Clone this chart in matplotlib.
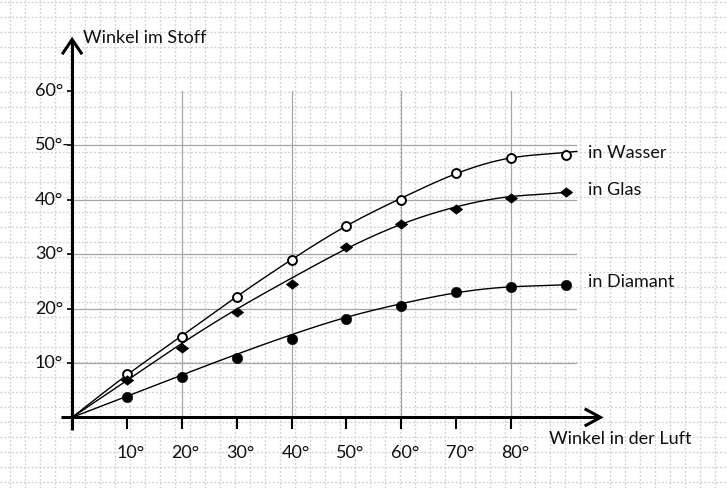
import numpy as np
import matplotlib
matplotlib.use("Agg")
import matplotlib.pyplot as plt
from matplotlib.path import Path

# ---------------- data ----------------
angles_air = [10, 20, 30, 40, 50, 60, 70, 80, 90]
water_pts = [7.9, 14.7, 22.1, 28.9, 35.1, 39.9, 44.9, 47.6, 48.2]
glass_pts = [6.8, 12.7, 19.3, 24.6, 31.3, 35.5, 38.4, 40.4, 41.5]
diamond_pts = [3.7, 7.4, 11.0, 14.5, 18.0, 20.4, 23.0, 23.9, 24.3]

# smooth curves
curve_x_water = [0, 10, 20, 30, 40, 50, 60, 70, 80, 90, 92]
curve_water = [0, 7.8, 15.0, 22.2, 29.0, 35.2, 40.3, 44.8, 47.7, 48.7, 48.9]
curve_x_glass = [0, 10, 20, 30, 40, 50, 60, 70, 80, 90, 90.8]
curve_glass = [0, 6.8, 13.6, 19.9, 25.6, 31.0, 35.5, 38.7, 40.6, 41.4, 41.5]
curve_x_diam = [0, 10, 20, 30, 40, 50, 60, 70, 80, 90, 90.8]
curve_diam = [0, 3.9, 7.8, 11.6, 15.2, 18.4, 20.9, 22.9, 24.0, 24.4, 24.45]

x_ticks = [10, 20, 30, 40, 50, 60, 70, 80]
x_tick_labels = ["10°", "20°", "30°", "40°", "50°", "60°", "70°", "80°"]
y_ticks = [10, 20, 30, 40, 50, 60]
y_tick_labels = ["10°", "20°", "30°", "40°", "50°-", "60°"]
series_labels = ["in Wasser", "in Glas", "in Diamant"]
x_title = "Winkel in der Luft"
y_title = "Winkel im Stoff"

# ---------------- helpers ----------------
W, H = 727, 488
X0, SX = 72.1, 5.486   # pixel of x=0, pixels per degree
Y0, SY = 417.4, 5.44


def px_x(p):
    return (p - X0) / SX


def px_y(p):
    return (Y0 - p) / SY


def natural_spline(xs, ys, n=400):
    xs = np.asarray(xs, float)
    ys = np.asarray(ys, float)
    k = len(xs)
    h = np.diff(xs)
    A = np.zeros((k, k))
    b = np.zeros(k)
    A[0, 0] = A[-1, -1] = 1
    for i in range(1, k - 1):
        A[i, i - 1] = h[i - 1]
        A[i, i] = 2 * (h[i - 1] + h[i])
        A[i, i + 1] = h[i]
        b[i] = 3 * ((ys[i + 1] - ys[i]) / h[i] - (ys[i] - ys[i - 1]) / h[i - 1])
    c = np.linalg.solve(A, b)
    xx = np.linspace(xs[0], xs[-1], n)
    yy = np.empty_like(xx)
    for j, x in enumerate(xx):
        i = min(np.searchsorted(xs, x, side="right") - 1, k - 2)
        bi = (ys[i + 1] - ys[i]) / h[i] - h[i] * (2 * c[i] + c[i + 1]) / 3
        di = (c[i + 1] - c[i]) / (3 * h[i])
        t = x - xs[i]
        yy[j] = ys[i] + bi * t + c[i] * t ** 2 + di * t ** 3
    return xx, yy


plt.rcParams["font.family"] = ["Lato", "DejaVu Sans"]
FS = 13

fig = plt.figure(figsize=(W / 100, H / 100), dpi=100)
ax = fig.add_axes([0, 0, 1, 1])
ax.set_xlim(px_x(0), px_x(W))
ax.set_ylim(px_y(H), px_y(0))
ax.axis("off")
fig.patch.set_facecolor("white")

# graph-paper dotted grid
dot_style = dict(color="#d2d2d2", lw=1.0, dashes=(1.4, 1.4), zorder=0)
for px in np.arange(10, W, 15):
    ax.plot([px_x(px), px_x(px)], [px_y(0), px_y(H)], **dot_style)
for py in np.arange(2, H, 15):
    ax.plot([px_x(0), px_x(W)], [px_y(py), px_y(py)], **dot_style)

# solid major grid lines
grid_style = dict(color="#a6a6a6", lw=0.9, zorder=1)
for gx in [20, 40, 60, 80]:
    ax.plot([gx, gx], [0, 60], **grid_style)
for gy in [10, 20, 30, 40, 50]:
    ax.plot([0, px_x(576)], [gy, gy], **grid_style)

# axes with arrows
axis_lw = 2.2
ax.plot([px_x(61), px_x(600)], [0, 0], color="black", lw=axis_lw, zorder=4,
        solid_capstyle="butt")
ax.plot([0, 0], [px_y(430), px_y(40)], color="black", lw=axis_lw, zorder=4,
        solid_capstyle="butt")
# arrow heads (chevrons)
ax.plot([px_x(586), px_x(600.5), px_x(586)], [px_y(409.5), px_y(417.4), px_y(425.3)],
        color="black", lw=axis_lw, zorder=4, solid_joinstyle="miter")
ax.plot([px_x(63), px_x(72.1), px_x(81.2)], [px_y(53), px_y(39.5), px_y(53)],
        color="black", lw=axis_lw, zorder=4, solid_joinstyle="miter")

# ticks
for t in x_ticks:
    ax.plot([t, t], [0, px_y(429)], color="black", lw=1.5, zorder=4,
            solid_capstyle="butt")
for t in y_ticks:
    ax.plot([px_x(66.5), 0], [t, t], color="black", lw=1.2, zorder=4,
            solid_capstyle="butt")

for t, lab in zip(x_ticks, x_tick_labels):
    ax.text(t + px_x(76) - px_x(72.1), px_y(453), lab, ha="center", va="center",
            fontsize=FS, color="#111111", zorder=5)
for t, lab in zip(y_ticks, y_tick_labels):
    ax.text(px_x(35), t, lab, ha="left", va="center", fontsize=FS,
            color="#111111", zorder=5)

ax.text(px_x(83), px_y(38), y_title, ha="left", va="center", fontsize=FS,
        color="#111111", zorder=5)
ax.text(px_x(549), px_y(439), x_title, ha="left", va="center", fontsize=FS,
        color="#111111", zorder=5)

# curves
for cx, cy in [(curve_x_water, curve_water), (curve_x_glass, curve_glass),
               (curve_x_diam, curve_diam)]:
    xx, yy = natural_spline(cx, cy)
    ax.plot(xx, yy, color="black", lw=1.0, zorder=3)

# markers
diamond_marker = Path([(-1.3, 0), (0, 1), (1.3, 0), (0, -1), (-1.3, 0)],
                      [Path.MOVETO, Path.LINETO, Path.LINETO, Path.LINETO,
                       Path.CLOSEPOLY])
ax.plot(angles_air, water_pts, linestyle="none", marker="o", ms=6.4,
        mfc="white", mec="black", mew=1.4, zorder=6)
ax.plot(angles_air, glass_pts, linestyle="none", marker=diamond_marker, ms=8.8,
        mfc="black", mec="black", mew=0.5, zorder=6)
ax.plot(angles_air, diamond_pts, linestyle="none", marker="o", ms=7.6,
        mfc="black", mec="black", mew=0.3, zorder=6)

# series labels
for lab, py in zip(series_labels, [153, 190, 282]):
    ax.text(px_x(588), px_y(py), lab, ha="left", va="center", fontsize=FS,
            color="#111111", zorder=5)

fig.savefig("out.png", dpi=100, facecolor="white")
